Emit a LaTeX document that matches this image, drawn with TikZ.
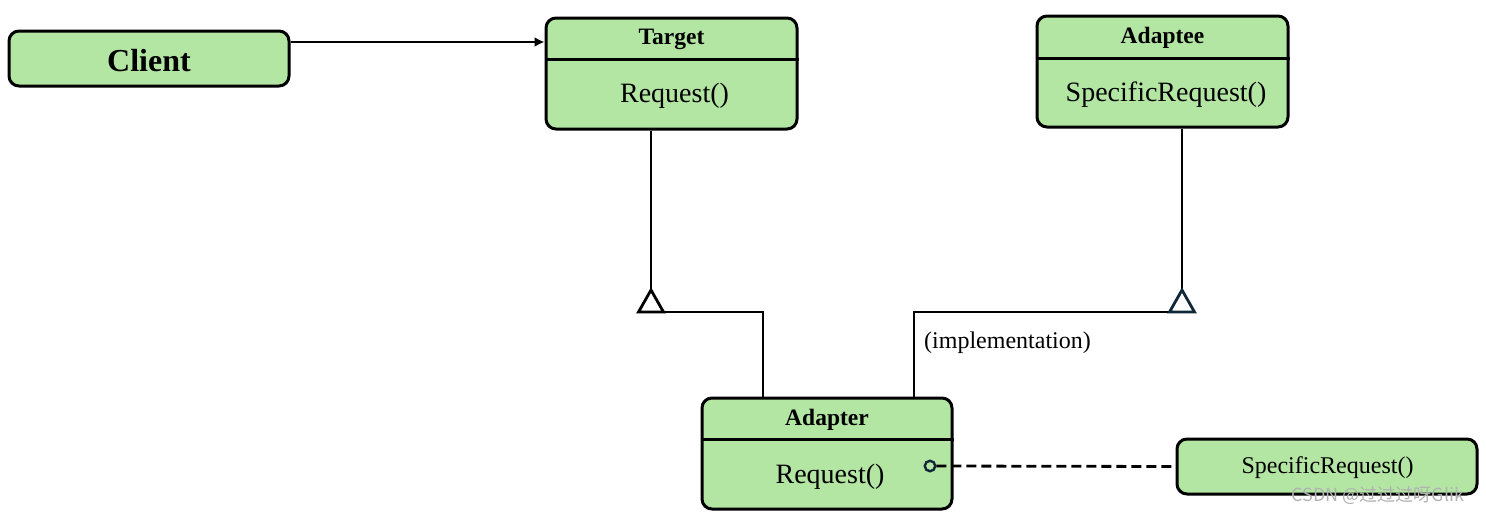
\documentclass[tikz,border=0pt]{standalone}
\usepackage{fontspec}
\setmainfont{Liberation Serif}
\newfontfamily\cjkfont{Noto Sans CJK SC}
\usetikzlibrary{arrows.meta}
\definecolor{boxgreen}{RGB}{179,229,163}
\definecolor{navy}{RGB}{16,40,56}
\begin{document}
\begin{tikzpicture}[x=1pt,y=-1pt,
  box/.style={draw, line width=3pt, rounded corners=10pt, fill=boxgreen, inner sep=0pt},
  ttl/.style={font=\fontsize{23.5}{26}\selectfont\bfseries, inner sep=0pt},
  meth/.style={font=\fontsize{28}{31}\selectfont, inner sep=0pt},
  conn/.style={line width=2.8pt},
  divider/.style={line width=3pt},
  tri/.style={line width=2.8pt, fill=white, line join=miter}
]
\useasboundingbox (0,0) rectangle (1486,515);

% Client
\node[box, minimum width=280pt, minimum height=55pt] (client) at (149,58.5) {};
\node[font=\fontsize{32}{35}\selectfont\bfseries, inner sep=0pt] (clientt) at (149,61) {Client};

% Target
\node[box, minimum width=251pt, minimum height=111pt] (target) at (671.5,73.5) {};
\draw[divider] (target.west |- 0,59) -- (target.east |- 0,59);
\node[ttl] (targett) at (671.5,39.5) {Target};
\node[meth] (targetm) at (674.5,96) {Request()};

% Adaptee
\node[box, minimum width=251pt, minimum height=111pt] (adaptee) at (1162.5,71.5) {};
\draw[divider] (adaptee.west |- 0,58) -- (adaptee.east |- 0,58);
\node[ttl] (adapteet) at (1162.5,37.5) {Adaptee};
\node[meth] (adapteem) at (1166,95) {SpecificRequest()};

% Adapter
\node[box, minimum width=250pt, minimum height=111pt] (adapter) at (827,453.5) {};
\draw[divider] (adapter.west |- 0,439) -- (adapter.east |- 0,439);
\node[ttl] (adaptert) at (827,419.5) {Adapter};
\node[meth] (adapterm) at (830,477) {Request()};

% SpecificRequest box
\node[box, minimum width=300pt, minimum height=55pt] (spec) at (1327,466.5) {};
\node[font=\fontsize{24}{27}\selectfont, inner sep=0pt] (spect) at (1327.5,468) {SpecificRequest()};

% Client -> Target
\draw[conn, -{Latex[length=10pt,width=10pt]}] (client.east |- 0,42) -- (target.west |- 0,42);

% Target inheritance
\coordinate (tapex) at (651,290);
\coordinate (tbase) at (651,312);
\coordinate (tcorner) at (763,312);
\draw[conn] (target.south -| tapex) -- (tapex);
\draw[conn] (tbase) -- (tcorner) -- (adapter.north -| tcorner);
\draw[tri] (tapex) -- ++(-12.5,22) -- ++(25,0) -- cycle;

% Adaptee inheritance
\coordinate (aapex) at (1182,290);
\coordinate (abase) at (1182,312);
\coordinate (acorner) at (914,312);
\draw[conn] (adaptee.south -| aapex) -- (aapex);
\draw[conn] (abase) -- (acorner) -- (adapter.north -| acorner);
\draw[tri, draw=navy] (aapex) -- ++(-12.5,22) -- ++(25,0) -- cycle;
\node[font=\fontsize{24}{27}\selectfont, inner sep=0pt, anchor=west] (impl) at (924,343) {(implementation)};

% Dashed link
\node[circle, draw=navy, line width=2.4pt, minimum size=10.5pt, inner sep=0pt] (port) at (930,466) {};
\draw[conn, dash pattern=on 10pt off 5pt] (port.east) -- (spec.west);

% Watermark
\node[font=\cjkfont\fontsize{18}{20}\selectfont, text=black!30, inner sep=0pt] (wm) at (1378,496) {CSDN @过过过呀Glik};
\end{tikzpicture}
\end{document}
